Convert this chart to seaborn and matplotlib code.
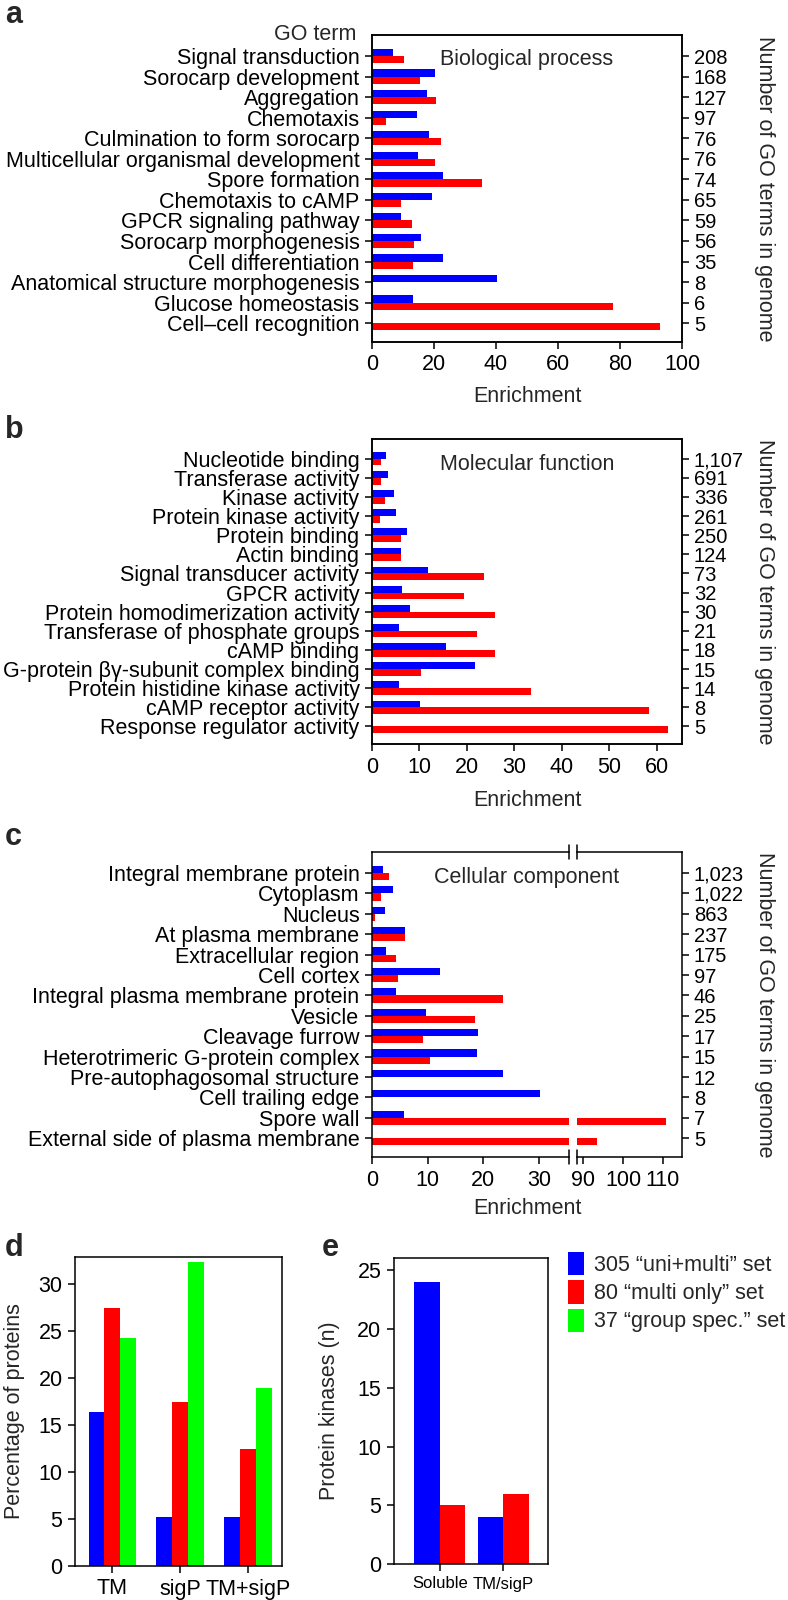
import matplotlib
matplotlib.use('Agg')
import pandas as pd
import matplotlib.pyplot as plt
import seaborn as sns
from matplotlib.patches import Patch
from matplotlib import font_manager

# Panel a: biological process
bp_terms = ['Signal transduction', 'Sorocarp development', 'Aggregation', 'Chemotaxis',
            'Culmination to form sorocarp', 'Multicellular organismal development',
            'Spore formation', 'Chemotaxis to cAMP', 'GPCR signaling pathway',
            'Sorocarp morphogenesis', 'Cell differentiation',
            'Anatomical structure morphogenesis', 'Glucose homeostasis', 'Cell\u2013cell recognition']
bp_uni = [6.8, 20.3, 17.7, 14.5, 18.5, 14.8, 22.8, 19.2, 9.4, 15.8, 22.9, 40.2, 13.3, 0]
bp_multi = [10.2, 15.4, 20.7, 4.6, 22.4, 20.3, 35.4, 9.4, 13.0, 13.7, 13.2, 0, 77.6, 92.8]
bp_counts = ['208', '168', '127', '97', '76', '76', '74', '65', '59', '56', '35', '8', '6', '5']

# Panel b: molecular function
mf_terms = ['Nucleotide binding', 'Transferase activity', 'Kinase activity',
            'Protein kinase activity', 'Protein binding', 'Actin binding',
            'Signal transducer activity', 'GPCR activity', 'Protein homodimerization activity',
            'Transferase of phosphate groups', 'cAMP binding',
            'G-protein \u03b2\u03b3-subunit complex binding', 'Protein histidine kinase activity',
            'cAMP receptor activity', 'Response regulator activity']
mf_uni = [2.9, 3.4, 4.6, 5.0, 7.4, 6.2, 11.7, 6.3, 8.1, 5.7, 15.6, 21.6, 5.7, 10.1, 0]
mf_multi = [1.8, 1.8, 2.8, 1.7, 6.2, 6.2, 23.5, 19.3, 25.9, 22.2, 25.9, 10.4, 33.5, 58.4, 62.3]
mf_counts = ['1,107', '691', '336', '261', '250', '124', '73', '32', '30', '21', '18', '15', '14', '8', '5']

# Panel c: cellular component
cc_terms = ['Integral membrane protein', 'Cytoplasm', 'Nucleus', 'At plasma membrane',
            'Extracellular region', 'Cell cortex', 'Integral plasma membrane protein',
            'Vesicle', 'Cleavage furrow', 'Heterotrimeric G-protein complex',
            'Pre-autophagosomal structure', 'Cell trailing edge', 'Spore wall',
            'External side of plasma membrane']
cc_uni = [1.9, 3.8, 2.4, 5.9, 2.5, 12.2, 4.4, 9.7, 19.0, 18.8, 23.5, 30.2, 5.8, 0]
cc_multi = [3.1, 1.6, 0.5, 5.9, 4.4, 4.7, 23.6, 18.5, 9.1, 10.4, 0, 0, 110.8, 93.5]
cc_counts = ['1,023', '1,022', '863', '237', '175', '97', '46', '25', '17', '15', '12', '8', '7', '5']

# Panel d
d_cats = ['TM', 'sigP', 'TM+sigP']
d_uni = [16.4, 5.2, 5.2]
d_multi = [27.5, 17.5, 12.5]
d_group = [24.3, 32.4, 18.9]

# Panel e
e_cats = ['Soluble', 'TM/sigP']
e_uni = [24, 4]
e_multi = [5, 6]

set_labels = ['305 \u201cuni+multi\u201d set', '80 \u201cmulti only\u201d set', '37 \u201cgroup spec.\u201d set']
BLUE, RED, GREEN = '#0000ff', '#ff0000', '#00ff00'

sns.set_style('ticks')
names = {f.name for f in font_manager.fontManager.ttflist}
NARROW = 'Liberation Sans Narrow' if 'Liberation Sans Narrow' in names else 'Liberation Sans'
plt.rcParams['font.family'] = [NARROW, 'DejaVu Sans']
REG = ['Liberation Sans', 'DejaVu Sans']
LW = 1.1
FS = 15.5

W, H = 788, 1600
fig = plt.figure(figsize=(W / 100, H / 100), dpi=100)


def px_axes(left, top, right, bottom):
    return fig.add_axes([left / W, 1 - bottom / H, (right - left) / W, (bottom - top) / H])


def long_form(cats, *series):
    keys = ['uni', 'multi', 'group'][:len(series)]
    rows = []
    for k, vals in zip(keys, series):
        for c, v in zip(cats, vals):
            rows.append({'cat': c, 'value': v, 'set': k})
    return pd.DataFrame(rows), keys


def style(ax):
    for s in ax.spines.values():
        s.set_linewidth(LW)
        s.set_color('black')
    ax.tick_params(direction='out', length=5, width=LW, labelsize=FS, pad=4, colors='black')
    ax.set_xlabel('')
    ax.set_ylabel('')


def go_bars(ax, terms, uni, multi):
    df, keys = long_form(terms, uni, multi)
    sns.barplot(data=df, x='value', y='cat', hue='set', hue_order=keys, order=terms,
                palette=[BLUE, RED], width=0.7, saturation=1, linewidth=0,
                orient='h', legend=False, ax=ax)
    n = len(terms)
    ax.set_ylim(n - 0.08, -1.03)
    style(ax)


def right_counts(ax, counts):
    ax.yaxis.tick_right()
    ax.set_yticks(range(len(counts)))
    ax.set_yticklabels(counts)
    ax.tick_params(axis='y', direction='out', length=5, width=LW, labelsize=14.5, pad=3.5)


def right_title(top_px, bottom_px):
    fig.text(765 / W, 1 - (top_px + bottom_px) / 2 / H, 'Number of GO terms in genome',
             rotation=270, ha='center', va='center', fontsize=15.5, family=REG)


def inner_title(text, top_px):
    fig.text(527 / W, 1 - (top_px + 25) / H, text, ha='center', va='center', fontsize=FS)


# ---- panel a
ax_a = px_axes(372, 35, 682, 342)
go_bars(ax_a, bp_terms, bp_uni, bp_multi)
ax_a.set_xlim(0, 100)
ax_a.set_xticks(range(0, 101, 20))
tw = ax_a.twinx()
tw.set_ylim(ax_a.get_ylim())
style(tw)
right_counts(tw, bp_counts)
ax_a.text(-0.052, 1.0, 'GO term', transform=ax_a.transAxes, ha='right', va='center', fontsize=FS)
inner_title('Biological process', 35)
right_title(35, 342)
fig.text(527 / W, 1 - 397 / H, 'Enrichment', ha='center', va='center', fontsize=FS)

# ---- panel b
ax_b = px_axes(372, 439, 682, 744)
go_bars(ax_b, mf_terms, mf_uni, mf_multi)
ax_b.set_xlim(0, 65.3)
ax_b.set_xticks(range(0, 61, 10))
tw = ax_b.twinx()
tw.set_ylim(ax_b.get_ylim())
style(tw)
right_counts(tw, mf_counts)
inner_title('Molecular function', 439)
right_title(439, 744)
fig.text(527 / W, 1 - 800 / H, 'Enrichment', ha='center', va='center', fontsize=FS)

# ---- panel c (broken x axis)
c1 = px_axes(372, 852, 569, 1157)
c2 = px_axes(577, 852, 682, 1157)
go_bars(c1, cc_terms, cc_uni, cc_multi)
go_bars(c2, cc_terms, cc_uni, cc_multi)
c1.set_xlim(0, 35.4)
c1.set_xticks([0, 10, 20, 30])
c2.set_xlim(88.4, 114.9)
c2.set_xticks([90, 100, 110])
c1.spines['right'].set_visible(False)
c2.spines['left'].set_visible(False)
right_counts(c2, cc_counts)
c2.tick_params(axis='y', left=False)
dy = 7 / (1157 - 852)
for ax, xb in ((c1, 1), (c2, 0)):
    for yb in (0, 1):
        ax.plot([xb, xb], [yb - dy, yb + dy], transform=ax.transAxes, color='black',
                lw=LW, clip_on=False)
inner_title('Cellular component', 852)
right_title(852, 1157)
fig.text(527 / W, 1 - 1208 / H, 'Enrichment', ha='center', va='center', fontsize=FS)

# ---- panel d
ax_d = px_axes(75, 1257, 282, 1566)
df, keys = long_form(d_cats, d_uni, d_multi, d_group)
sns.barplot(data=df, x='cat', y='value', hue='set', hue_order=keys, order=d_cats,
            palette=[BLUE, RED, GREEN], width=0.7, saturation=1, linewidth=0,
            legend=False, ax=ax_d)
style(ax_d)
ax_d.set_ylim(0, 32.9)
ax_d.set_xlim(-0.55, 2.5)
ax_d.set_yticks(range(0, 31, 5))
fig.text(15 / W, 1 - 1411 / H, 'Percentage of proteins', rotation=90, ha='center',
         va='center', fontsize=15.5, family=REG)

# ---- panel e
ax_e = px_axes(394, 1258, 548, 1564)
df, keys = long_form(e_cats, e_uni, e_multi)
sns.barplot(data=df, x='cat', y='value', hue='set', hue_order=keys, order=e_cats,
            palette=[BLUE, RED], width=0.8, saturation=1, linewidth=0,
            legend=False, ax=ax_e)
style(ax_e)
ax_e.set_ylim(0, 26.05)
ax_e.set_xlim(-0.72, 1.7)
ax_e.set_yticks(range(0, 26, 5))
for lab in ax_e.get_xticklabels():
    lab.set_fontsize(12)
    lab.set_family(REG)
fig.text(329 / W, 1 - 1411 / H, 'Protein kinases (n)', rotation=90, ha='center',
         va='center', fontsize=15.5, family=REG)

handles = [Patch(facecolor=c, edgecolor='none') for c in (BLUE, RED, GREEN)]
fig.legend(handles, set_labels, loc='upper left', bbox_to_anchor=(568 / W, 1 - 1252 / H),
           frameon=False, handlelength=0.75, handleheight=1.3, handletextpad=0.45,
           labelspacing=0.2, borderpad=0, borderaxespad=0, fontsize=FS)

# panel letters
for letter, x, y in (('a', 5, 15), ('b', 5, 430), ('c', 5, 837), ('d', 5, 1248), ('e', 322, 1248)):
    fig.text(x / W, 1 - y / H, letter, ha='left', va='center', fontsize=22,
             fontweight='bold', family=REG)

fig.savefig('out.png', dpi=100)
